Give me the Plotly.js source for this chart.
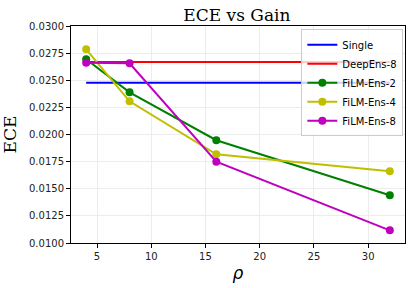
<!DOCTYPE html>
<html><head><meta charset="utf-8">
<script src="https://cdn.plot.ly/plotly-3.0.1.min.js"></script>
<style>body{margin:0;background:#fff}#c{width:412px;height:288px}</style>
</head><body><div id="c"></div>
<script>
const rho = [4, 8, 16, 32];
const single = [0.02477, 0.02477];
const deepEns8 = [0.02668, 0.02668];
const film2 = [0.02693, 0.02389, 0.01947, 0.0144];
const film4 = [0.02785, 0.02306, 0.01817, 0.01661];
const film8 = [0.02662, 0.02656, 0.01749, 0.01117];
const ends = [4, 32];

const traces = [
  {x: ends, y: single, name: 'Single', mode: 'lines', line: {color: '#0000ff', width: 2}},
  {x: ends, y: deepEns8, name: 'DeepEns-8', mode: 'lines', line: {color: '#ff0000', width: 2}},
  {x: rho, y: film2, name: 'FiLM-Ens-2', mode: 'lines+markers', line: {color: '#008000', width: 2}, marker: {size: 8, color: '#008000'}},
  {x: rho, y: film4, name: 'FiLM-Ens-4', mode: 'lines+markers', line: {color: '#bfbf00', width: 2}, marker: {size: 8, color: '#bfbf00'}},
  {x: rho, y: film8, name: 'FiLM-Ens-8', mode: 'lines+markers', line: {color: '#bf00bf', width: 2}, marker: {size: 8, color: '#bf00bf'}}
];

const axisCommon = {
  showline: true, linecolor: '#000', linewidth: 1, mirror: true,
  ticks: 'outside', ticklen: 4, tickcolor: '#000',
  showgrid: true, gridcolor: '#ececec', gridwidth: 1, zeroline: false,
  tickfont: {family: 'DejaVu Sans', size: 10, color: '#222'}
};

const layout = {
  width: 412, height: 288,
  margin: {l: 71, r: 7, t: 26, b: 45},
  paper_bgcolor: '#fff', plot_bgcolor: '#fff',
  title: {text: 'ECE vs Gain', font: {family: 'DejaVu Serif', size: 17, color: '#000'}, x: 0.575, xanchor: 'center', y: 0.948, yanchor: 'middle'},
  xaxis: Object.assign({}, axisCommon, {
    range: [2.6, 33.4], tickvals: [5, 10, 15, 20, 25, 30],
    title: {text: '<i>ρ</i>', font: {family: 'DejaVu Sans', size: 17, color: '#000'}, standoff: 6}
  }),
  yaxis: Object.assign({}, axisCommon, {
    range: [0.01, 0.03], tickvals: [0.01, 0.0125, 0.015, 0.0175, 0.02, 0.0225, 0.025, 0.0275, 0.03],
    tickformat: '.4f',
    title: {text: 'ECE', font: {family: 'DejaVu Serif', size: 17, color: '#000'}, standoff: 8}
  }),
  legend: {
    x: 0.995, xanchor: 'right', y: 0.985, yanchor: 'top',
    bgcolor: 'rgba(255,255,255,0.8)', bordercolor: '#ccc', borderwidth: 1,
    font: {family: 'DejaVu Sans', size: 10, color: '#000'},
    tracegroupgap: 0, itemwidth: 30
  },
  showlegend: true
};

Plotly.newPlot('c', traces, layout, {staticPlot: true, displayModeBar: false});
</script></body></html>
